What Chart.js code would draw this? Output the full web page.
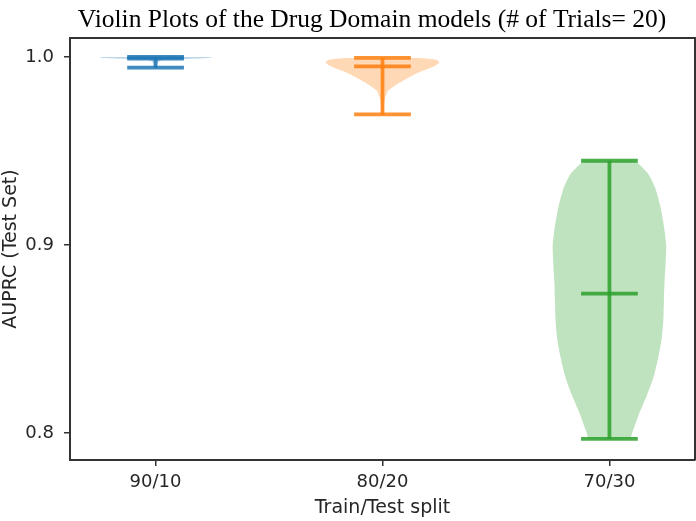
<!DOCTYPE html>
<html>
<head>
<meta charset="utf-8">
<script src="https://cdn.jsdelivr.net/npm/chart.js@4.4.0/dist/chart.umd.min.js"></script>
<style>
    html, body { margin: 0; padding: 0; background: #ffffff; }
</style>
</head>
<body>
<canvas id="violinChart" width="696" height="521"></canvas>
<script>
// Train/test splits and their summary values
const splitLabels = ['90/10', '80/20', '70/30'];
const positions = [1, 2, 3];
const maxs = [1.0, 0.9995, 0.9448];
const medians = [0.9992, 0.9950, 0.8741];
const mins = [0.9943, 0.9695, 0.7968];
const yTicks = [0.8, 0.9, 1.0];

// Violin outlines: AUPRC levels and relative density (widest = 1)
const levels90 = [1.0, 0.9994, 0.9988, 0.9984, 0.998, 0.9975, 0.997, 0.9955, 0.9943];
const density90 = [1.0, 0.92, 0.45, 0.16, 0.08, 0.06, 0.045, 0.025, 0.012];
const levels80 = [0.9995, 0.9985, 0.9970, 0.9955, 0.9935, 0.9910, 0.9880, 0.9850, 0.9820, 0.9780, 0.9740, 0.9695];
const density80 = [0.66, 0.95, 1.0, 0.94, 0.78, 0.58, 0.4, 0.23, 0.1, 0.045, 0.026, 0.016];
const levels70 = [0.9448, 0.938, 0.930, 0.920, 0.910, 0.900, 0.890, 0.880, 0.870, 0.860, 0.850, 0.840, 0.830, 0.820, 0.810, 0.800, 0.7968];
const density70 = [0.46, 0.68, 0.81, 0.90, 0.96, 1.0, 0.99, 0.97, 0.96, 0.95, 0.92, 0.86, 0.78, 0.66, 0.52, 0.40, 0.36];

const violinLevels = [levels90, levels80, levels70];
const violinDensity = [density90, density80, density70];

const colors = ['#1f77b4', '#ff7f0e', '#2ca02c'];
const halfWidth = 0.25;   // violin half width in x units
const capHalf = 0.125;    // cap line half width
const textColor = '#262626';
const axisColor = '#333333';

function hexToRgba(hex, a) {
    const n = parseInt(hex.slice(1), 16);
    return 'rgba(' + (n >> 16) + ',' + ((n >> 8) & 255) + ',' + (n & 255) + ',' + a + ')';
}

const datasets = [];
positions.forEach(function(pos, i) {
    const lv = violinLevels[i];
    const dn = violinDensity[i];
    // body: left edge top->bottom, then right edge bottom->top
    const left = lv.map((y, k) => ({ x: pos - halfWidth * dn[k], y: y }));
    const right = lv.map((y, k) => ({ x: pos + halfWidth * dn[k], y: y })).reverse();
    datasets.push({
        data: left.concat(right),
        showLine: true,
        fill: 'shape',
        backgroundColor: hexToRgba(colors[i], 0.3),
        borderWidth: 0,
        borderColor: 'rgba(0,0,0,0)',
        pointRadius: 0,
        tension: 0.2,
        order: 2
    });
    const lineStyle = {
        showLine: true,
        fill: false,
        borderColor: hexToRgba(colors[i], 0.85),
        borderWidth: 3.8,
        pointRadius: 0,
        order: 1
    };
    // vertical bar min -> max
    datasets.push(Object.assign({ data: [{ x: pos, y: mins[i] }, { x: pos, y: maxs[i] }] }, lineStyle));
    // caps and median
    [maxs[i], mins[i], medians[i]].forEach(function(v) {
        datasets.push(Object.assign({ data: [{ x: pos - capHalf, y: v }, { x: pos + capHalf, y: v }] }, lineStyle));
    });
});

// Frame (top and right spines) and the serif title
const framePlugin = {
    id: 'frame',
    afterDraw: function(chart) {
        const ctx = chart.ctx;
        const a = chart.chartArea;
        ctx.save();
        ctx.strokeStyle = axisColor;
        ctx.lineWidth = 2;
        ctx.beginPath();
        ctx.moveTo(a.left, a.top);
        ctx.lineTo(a.right, a.top);
        ctx.lineTo(a.right, a.bottom);
        ctx.stroke();
        ctx.fillStyle = '#000000';
        ctx.font = '25.5px "Liberation Serif", "Times New Roman", serif';
        ctx.textAlign = 'center';
        ctx.textBaseline = 'alphabetic';
        ctx.fillText('Violin Plots of the Drug Domain models (# of Trials= 20)', 372, 27);
        ctx.restore();
    }
};

const tickFont = { family: '"DejaVu Sans", sans-serif', size: 18 };
const titleFont = { family: '"DejaVu Sans", sans-serif', size: 19 };

new Chart(document.getElementById('violinChart'), {
    type: 'scatter',
    data: { datasets: datasets },
    options: {
        responsive: false,
        animation: false,
        layout: { padding: { top: 38, right: 1, left: 0, bottom: 0 } },
        plugins: {
            legend: { display: false },
            tooltip: { enabled: false }
        },
        scales: {
            x: {
                type: 'linear',
                min: 0.623,
                max: 3.377,
                afterBuildTicks: function(scale) {
                    scale.ticks = positions.map(v => ({ value: v }));
                },
                afterFit: function(scale) { scale.height = 61; },
                ticks: {
                    autoSkip: false,
                    maxRotation: 0,
                    padding: 6,
                    color: textColor,
                    font: tickFont,
                    callback: function(value) {
                        return splitLabels[positions.indexOf(value)];
                    }
                },
                grid: { drawOnChartArea: false, drawTicks: true, tickLength: 6, color: axisColor, lineWidth: 1.5 },
                border: { display: true, color: axisColor, width: 2 },
                title: { display: true, text: 'Train/Test split', color: textColor, font: titleFont, padding: { top: 2, bottom: 2 } }
            },
            y: {
                type: 'linear',
                min: 0.7856,
                max: 1.0101,
                afterBuildTicks: function(scale) {
                    scale.ticks = yTicks.map(v => ({ value: v }));
                },
                afterFit: function(scale) { scale.width = 70; },
                ticks: {
                    padding: 10,
                    color: textColor,
                    font: tickFont,
                    callback: function(value) { return value.toFixed(1); }
                },
                grid: { drawOnChartArea: false, drawTicks: true, tickLength: 6, color: axisColor, lineWidth: 1.5 },
                border: { display: true, color: axisColor, width: 2 },
                title: { display: true, text: 'AUPRC (Test Set)', color: textColor, font: titleFont, padding: 0 }
            }
        }
    },
    plugins: [framePlugin]
});
</script>
</body>
</html>
